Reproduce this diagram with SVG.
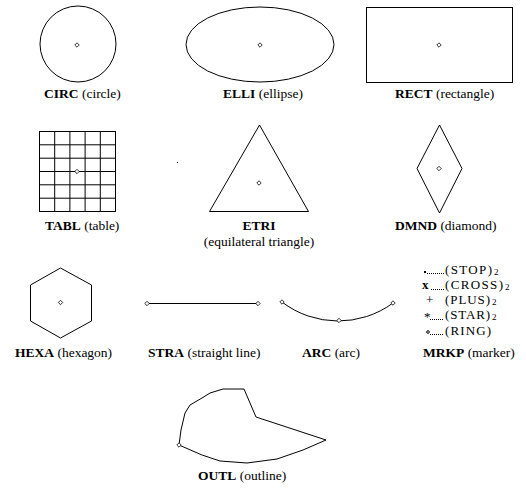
<svg xmlns="http://www.w3.org/2000/svg" width="526" height="489" viewBox="0 0 526 489">
<style>
.s{fill:none;stroke:#000;stroke-width:1}
.m{fill:#fff;stroke:#000;stroke-width:0.8}
text{font-family:"Liberation Serif","Times New Roman",serif;font-size:13.5px;fill:#000}
.b{font-weight:bold}
.k{font-size:13px}
.sub{font-size:9px}
.d{fill:none;stroke:#000;stroke-width:1;stroke-dasharray:1,1}
</style>
<defs>
<path id="mk" d="M0,-2.2 L2.2,0 L0,2.2 L-2.2,0 Z"/>
</defs>
<rect width="526" height="489" fill="#fff"/>
<g id="circ">
<circle class="s" cx="78" cy="44" r="38"/>
<use href="#mk" class="m" x="77" y="45"/>
<text x="44" y="98"><tspan class="b">CIRC</tspan> (circle)</text>
</g>
<g id="elli">
<ellipse class="s" cx="260" cy="44.5" rx="74" ry="37.5"/>
<use href="#mk" class="m" x="260" y="45"/>
<text x="223" y="98"><tspan class="b">ELLI</tspan> (ellipse)</text>
</g>
<g id="rect">
<rect class="s" x="366.5" y="7.5" width="146" height="75"/>
<use href="#mk" class="m" x="439" y="45"/>
<text x="395" y="98"><tspan class="b">RECT</tspan>   (rectangle)</text>
</g>
<g id="tabl">
<rect class="s" x="39.5" y="131.5" width="76" height="80"/>
<path class="s" d="M54.7,131.5V211.5M69.9,131.5V211.5M85.1,131.5V211.5M100.3,131.5V211.5M39.5,144.8H115.5M39.5,158.2H115.5M39.5,171.5H115.5M39.5,184.8H115.5M39.5,198.2H115.5"/>
<use href="#mk" class="m" x="77" y="171.5"/>
<text x="45" y="230"><tspan class="b">TABL</tspan> (table)</text>
</g>
<g id="dot">
<rect x="177" y="162" width="1" height="1" fill="#000"/>
</g>
<g id="etri">
<path class="s" d="M259.5,125 L308.5,211.5 L209.5,211.5 Z"/>
<use href="#mk" class="m" x="259" y="183"/>
<text x="259" y="230" text-anchor="middle" class="b">ETRI</text>
<text x="259" y="246" text-anchor="middle">(equilateral triangle)</text>
</g>
<g id="dmnd">
<path class="s" d="M439.5,125 L462,168.5 L439.5,213 L417,168.5 Z"/>
<use href="#mk" class="m" x="439" y="168.5"/>
<text x="395" y="230"><tspan class="b">DMND</tspan> (diamond)</text>
</g>
<g id="hexa">
<path class="s" d="M60.5,268 L91.5,285 L91.5,321 L60.5,338 L30.5,321 L30.5,285 Z"/>
<use href="#mk" class="m" x="60.5" y="302.5"/>
<text x="15" y="357"><tspan class="b">HEXA</tspan> (hexagon)</text>
</g>
<g id="stra">
<path class="s" d="M147,303.5 H258"/>
<use href="#mk" class="m" x="147" y="303.5"/>
<use href="#mk" class="m" x="258" y="303.5"/>
<text x="148" y="357"><tspan class="b">STRA</tspan>  (straight line)</text>
</g>
<g id="arc">
<path class="s" d="M282,302 A92.5,92.5 0 0 0 393,303"/>
<use href="#mk" class="m" x="282" y="302"/>
<use href="#mk" class="m" x="339" y="320.5"/>
<use href="#mk" class="m" x="393" y="303"/>
<text x="302" y="357"><tspan class="b">ARC</tspan> (arc)</text>
</g>
<g id="mrkp">
<rect x="424" y="271" width="2" height="2" fill="#000"/>
<path class="d" d="M427,273.5 H444"/>
<text class="k" x="445" y="274" textLength="47">(STOP)</text>
<text class="sub" x="494" y="275">2</text>
<text class="k b" x="422" y="289">x</text>
<path class="d" d="M431,289.5 H444"/>
<text class="k" x="445" y="289" textLength="58">(CROSS)</text>
<text class="sub" x="505" y="290">2</text>
<text class="k" x="426" y="304">+</text>
<text class="k" x="445" y="304" textLength="45">(PLUS)</text>
<text class="sub" x="492" y="305">2</text>
<text class="k" x="424" y="321">*</text>
<path class="d" d="M430,319.5 H444"/>
<text class="k" x="445" y="319" textLength="45">(STAR)</text>
<text class="sub" x="492" y="320">2</text>
<circle cx="428" cy="332" r="1.3" class="s" stroke-width="0.8"/>
<path class="d" d="M430,334.5 H444"/>
<text class="k" x="445" y="335" textLength="46">(RING)</text>
<text x="423" y="357"><tspan class="b">MRKP</tspan> (marker)</text>
</g>
<g id="outl">
<path class="s" d="M179,445 L181,430 L185,413 L190,405 L202,398 L210,393 L223,389 L244,389 L256,417 L326,440 L303,450 L277,459 L247,463 L220,461 L202,455 Z"/>
<use href="#mk" class="m" x="179" y="445"/>
<text x="198" y="480"><tspan class="b">OUTL</tspan>  (outline)</text>
</g>
<g id="connectors"/>
</svg>
